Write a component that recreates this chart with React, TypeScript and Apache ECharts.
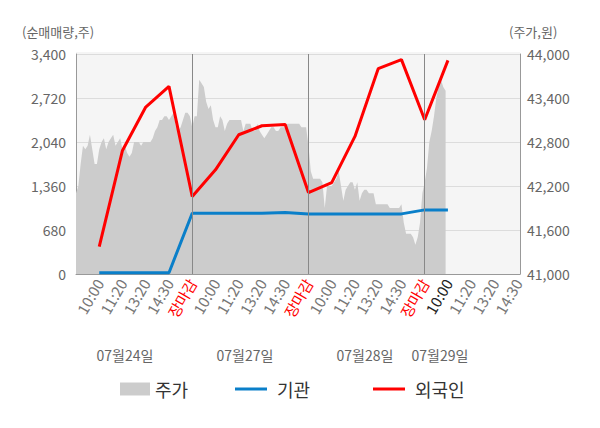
import React, { useEffect, useRef } from 'react';
import * as echarts from 'echarts';

const timeLabels = ['10:00', '11:20', '13:20', '14:30', '장마감', '10:00', '11:20', '13:20', '14:30', '장마감', '10:00', '11:20', '13:20', '14:30', '장마감', '10:00', '11:20', '13:20', '14:30'];
const dateLabels = ['07월24일', '07월27일', '07월28일', '07월29일'];
const leftTicks = [0, 680, 1360, 2040, 2720, 3400];
const priceBase = 41000;

// 기관 / 외국인 net buying at label positions 1..16
const institution = [20, 20, 20, 20, 940, 940, 940, 940, 949, 929, 929, 929, 929, 929, 991, 991];
const foreign = [423, 1909, 2580, 2900, 1197, 1610, 2152, 2291, 2311, 1259, 1413, 2126, 3173, 3313, 2384, 3302];

// 주가 sampled every 0.1 of a label step
const price = [
  42100, 42200, 42500, 42750, 42700, 42750, 42900, 42700, 42500, 42500,
  42700, 42800, 42850, 42700, 42800, 42850, 42900, 42750, 42800, 42850,
  42700, 42750, 42650, 42600, 42650, 42800, 42800, 42800, 42750, 42800,
  42800, 42800, 42800, 42850, 42950, 43000, 43100, 43100, 43150, 43150,
  43100, 43150, 43200, 43000, 42950, 43000, 43100, 43200, 43200, 43150,
  43000, 43150, 43150, 43650, 43600, 43550, 43350, 43250, 43300, 43100,
  43000, 43000, 43150, 43100, 42950, 43050, 43100, 43100, 43100, 43100,
  43100, 43100, 42950, 43050, 43050, 43050, 42950, 42950, 43050, 42950,
  42900, 42850, 42900, 42950, 43000, 43000, 42950, 42950, 43000, 43000,
  43000, 43050, 43050, 43050, 43050, 43050, 43050, 43000, 43000, 43000,
  42750, 42400, 42300, 42300, 42300, 42300, 42250, 41900, 42200, 42200,
  42200, 42250, 42300, 42400, 42200, 42000, 42150, 42200, 42250, 42250,
  42150, 42250, 42000, 42100, 42150, 42150, 42100, 42100, 42100, 41950,
  41950, 41950, 41950, 41950, 41950, 41900, 41900, 41900, 41900, 41900,
  41950, 41700, 41550, 41550, 41550, 41500, 41400, 41500, 41700, 42100,
  42250, 42450, 42800, 42950, 43150, 43400, 43550, 43650, 43550, 43500,
];

const FONT = 'Noto Sans CJK KR';

export default function App() {
  const ref = useRef<HTMLDivElement>(null);
  useEffect(() => {
    document.body.style.margin = '0';
    const chart = echarts.init(ref.current!, null, { renderer: 'svg' });
    const option: any = {
      animation: false,
      textStyle: { fontFamily: FONT },
      grid: { left: 76, right: 80, top: 54, bottom: 154 },
      graphic: [
        { type: 'rect', z: -10, shape: { x: 76, y: 52, width: 444, height: 222 }, style: { fill: '#f5f5f5' }, silent: true },
        { type: 'text', left: 22, top: 25, style: { text: '(순매매량,주)', fill: '#666', font: `13px "${FONT}"` } },
        { type: 'text', left: 509, top: 25, style: { text: '(주가,원)', fill: '#666', font: `13px "${FONT}"` } },
        ...dateLabels.map((t, i) => ({
          type: 'text',
          x: [125, 245, 365, 440][i],
          y: 355,
          style: { text: t, fill: '#666', font: `14px "${FONT}"`, align: 'center', verticalAlign: 'middle' },
        })),
      ],
      legend: [
        { data: ['주가'], left: 115, top: 375, icon: 'rect', itemWidth: 30, itemHeight: 13, selectedMode: false, textStyle: { fontSize: 18, color: '#333', fontFamily: FONT } },
        { data: ['기관'], left: 230, top: 375, icon: 'rect', itemWidth: 32, itemHeight: 3, selectedMode: false, textStyle: { fontSize: 18, color: '#333', fontFamily: FONT, padding: [0, 0, 0, 5] } },
        { data: ['외국인'], left: 368, top: 375, icon: 'rect', itemWidth: 32, itemHeight: 3, selectedMode: false, textStyle: { fontSize: 18, color: '#333', fontFamily: FONT, padding: [0, 0, 0, 5] } },
      ],
      xAxis: {
        type: 'value',
        min: 0,
        max: 19.1,
        interval: 1,
        axisLine: { lineStyle: { color: '#999' } },
        axisTick: { show: false },
        splitLine: { show: false },
        axisLabel: {
          rotate: 60,
          fontSize: 15,
          color: '#777',
          margin: 6,
          formatter: (v: number) => {
            if (Math.abs(v - Math.round(v)) > 1e-6 || v < 1) return '';
            const idx = Math.round(v) - 1;
            const t = timeLabels[idx];
            if (t === undefined) return '';
            if (t === '장마감') return '{r|' + t + '}';
            if (idx === 15) return '{d|' + t + '}';
            return t;
          },
          rich: {
            r: { color: '#ff0000', fontSize: 15, fontFamily: FONT },
            d: { color: '#222', fontSize: 15, fontFamily: FONT },
          },
        },
      },
      yAxis: [
        {
          type: 'value',
          min: leftTicks[0],
          max: leftTicks[leftTicks.length - 1],
          interval: 680,
          position: 'left',
          axisLine: { show: true, lineStyle: { color: '#999' } },
          axisTick: { show: false },
          axisLabel: { fontSize: 14, color: '#666', margin: 10, formatter: (v: number) => v.toLocaleString('en-US') },
          splitLine: { lineStyle: { color: '#dcdcdc' } },
        },
        {
          type: 'value',
          min: 0,
          max: 3000,
          interval: 600,
          position: 'right',
          axisLine: { show: true, lineStyle: { color: '#999' } },
          axisTick: { show: false },
          axisLabel: { fontSize: 14, color: '#666', margin: 7, formatter: (v: number) => (v + priceBase).toLocaleString('en-US') },
          splitLine: { show: false },
        },
      ],
      series: [
        {
          name: '주가',
          type: 'line',
          yAxisIndex: 1,
          data: price.map((p, i) => [i * 0.1, p - priceBase]),
          symbol: 'none',
          itemStyle: { color: '#cccccc' },
          lineStyle: { width: 0, color: '#cccccc' },
          areaStyle: { color: '#cccccc', opacity: 1 },
          z: 1,
          markLine: {
            silent: true,
            symbol: 'none',
            label: { show: false },
            lineStyle: { color: '#888', width: 1, type: 'solid' },
            data: [{ xAxis: 5 }, { xAxis: 10 }, { xAxis: 15 }],
          },
        },
        {
          name: '기관',
          type: 'line',
          yAxisIndex: 0,
          data: institution.map((v, i) => [i + 1, v]),
          symbol: 'none',
          itemStyle: { color: '#0a7fc9' },
          lineStyle: { width: 3, color: '#0a7fc9' },
          z: 3,
        },
        {
          name: '외국인',
          type: 'line',
          yAxisIndex: 0,
          data: foreign.map((v, i) => [i + 1, v]),
          symbol: 'none',
          itemStyle: { color: '#ff0000' },
          lineStyle: { width: 3, color: '#ff0000' },
          z: 4,
        },
      ],
    };
    chart.setOption(option);
    return () => chart.dispose();
  }, []);
  return <div ref={ref} style={{ width: 600, height: 428 }} />;
}
